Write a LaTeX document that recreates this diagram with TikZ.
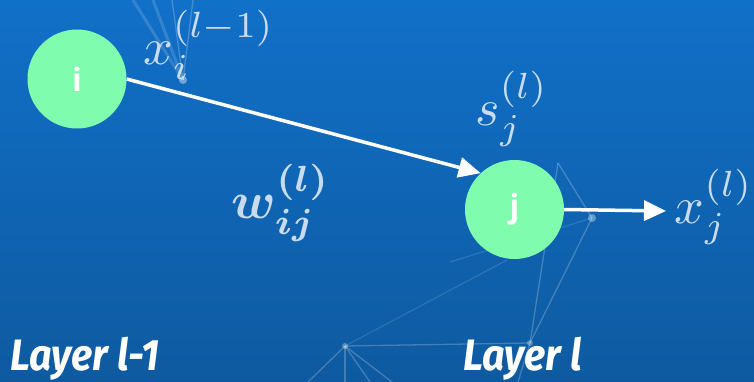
\documentclass[tikz,border=0pt]{standalone}
\usepackage{fontspec}
\usepackage{bm}
\newfontfamily\layfont[FakeStretch=0.9]{Fira Sans}
\newfontfamily\nodefont{Open Sans}
\usetikzlibrary{arrows.meta}
\definecolor{nodegreen}{RGB}{128,252,175}
\definecolor{bgtop}{RGB}{17,112,200}
\definecolor{bgbot}{RGB}{14,90,160}
\definecolor{mathcol}{RGB}{222,233,246}
\begin{document}
\begin{tikzpicture}[x=1pt,y=-1pt,
  neuron/.style={circle, fill=nodegreen, minimum size=99pt, inner sep=0pt, text=white, font=\nodefont\bfseries\fontsize{32}{32}\selectfont},
  conn/.style={white, line width=3.5pt, -{Triangle[length=22pt,width=20pt]}},
  mlabel/.style={text=mathcol, opacity=0.9, scale=5.2, inner sep=0pt},
  layerlabel/.style={text=white, font=\layfont\bfseries\itshape\fontsize{44}{44}\selectfont, anchor=base west, inner sep=0pt},
  faint/.style={white, opacity=0.22, line width=1.3pt},
  beam/.style={white, opacity=0.15, line width=3pt}]
\fill[top color=bgtop, bottom color=bgbot] (0,0) rectangle (754,382);
\useasboundingbox (0,0) rectangle (754,382);
% faint background network
\coordinate (p1) at (183,80);
\draw[beam] (133,0) -- (p1);
\draw[beam] (153,0) -- (p1);
\draw[faint] (193,0) -- (p1);
\draw[faint] (172,0) -- (p1);
\fill[white, opacity=0.4] (p1) circle (4pt);
\coordinate (q1) at (558,163);
\coordinate (q2) at (592,218);
\coordinate (q3) at (530,343);
\coordinate (q4) at (345,346);
\draw[faint] (q1) -- (q2) -- (q3);
\draw[faint] (q1) -- (q3);
\draw[faint] (q3) -- (q4);
\draw[faint] (q3) -- (518,382);
\draw[faint] (q4) -- (308,382);
\draw[faint] (q4) -- (345,382);
\draw[faint] (q4) -- (370,382);
\draw[faint] (q4) -- (392,382);
\draw[faint, opacity=0.12] (q4) -- (507,260);
\draw[faint, opacity=0.12] (q2) -- (450,262);
\fill[white, opacity=0.35] (q2) circle (4pt);
\fill[white, opacity=0.3] (q3) circle (3pt);
\fill[white, opacity=0.3] (q4) circle (3pt);
% neurons
\node[neuron] (i) at (77,79) {i};
\node[neuron] (j) at (514.5,209.5) {j};
\coordinate (out) at (666,211);
\draw[conn] (i.east) -- (j.133);
\draw[conn] (j.east) -- (out);
% labels
\node[mlabel] (xi) at (209,45) {$x_i^{(l-1)}$};
\node[mlabel] (sj) at (512,109) {$s_j^{(l)}$};
\node[mlabel] (xj) at (714,207) {$x_j^{(l)}$};
\node[mlabel] (wij) at (281,203) {$\bm{w_{ij}^{(l)}}$};
\node[layerlabel] (L1) at (10,370) {Layer l-1};
\node[layerlabel] (L2) at (463,370) {Layer l};
\end{tikzpicture}
\end{document}
